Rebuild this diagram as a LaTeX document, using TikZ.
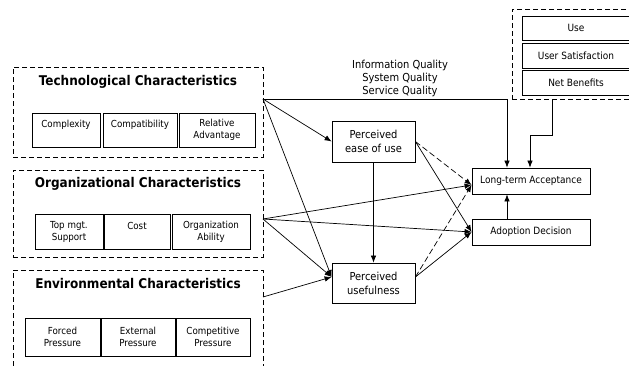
\documentclass[tikz,border=0pt]{standalone}
\usepackage{fontspec}
\setmainfont{DejaVu Sans Condensed}
\usetikzlibrary{arrows.meta}

\begin{document}
\begin{tikzpicture}[x=1pt, y=-1pt, >={Latex[length=7pt,width=5.5pt]},
    group/.style={draw, dash pattern=on 5pt off 3pt, line width=0.7pt, inner sep=0pt},
    title/.style={font=\bfseries\fontsize{13.4}{15}\selectfont},
    item/.style={draw, line width=0.7pt, align=center, inner sep=0pt, font=\fontsize{9.7}{12}\selectfont},
    block/.style={draw, line width=0.8pt, align=center, inner sep=0pt},
    arr/.style={->, line width=0.7pt},
    dasharr/.style={->, line width=0.7pt, dash pattern=on 6pt off 3pt}]
        \useasboundingbox (0,0) rectangle (629,365);
        % technological group
        \node[group, minimum width=250, minimum height=90] (tech) at (138,112) {};
        \node[title] (techtitle) at (138,82) {Technological Characteristics};
        \node[item, minimum width=68, minimum height=34] (complexity) at (66,130) {Complexity\\ \mbox{}};
        \node[item, minimum width=74, minimum height=34] (compat) at (140,130) {Compatibility\\ \mbox{}};
        \node[item, minimum width=76, minimum height=34] (reladv) at (217,130) {Relative\\Advantage};
        % organizational group
        \node[group, minimum width=250, minimum height=87] (org) at (138,213.5) {};
        \node[title] (orgtitle) at (138,184) {Organizational Characteristics};
        \node[item, minimum width=68, minimum height=35] (topmgt) at (69,231.5) {Top mgt.\\Support};
        \node[item, minimum width=66, minimum height=35] (cost) at (137,231.5) {Cost\\ \mbox{}};
        \node[item, minimum width=78, minimum height=35] (orgability) at (211,231.5) {Organization\\Ability};
        % environmental group
        \node[group, minimum width=250, minimum height=105] (env) at (138,322.5) {};
        \node[title] (envtitle) at (138,283) {Environmental Characteristics};
        \node[item, minimum width=75, minimum height=38] (forced) at (62.5,337) {Forced\\Pressure};
        \node[item, minimum width=74, minimum height=38] (external) at (138,337) {External\\Pressure};
        \node[item, minimum width=74, minimum height=38] (competitive) at (213,337) {Competitive\\Pressure};
        % success group
        \node[group, minimum width=160, minimum height=90] (success) at (592,54) {};
        \node[block, minimum width=108, minimum height=24, font=\fontsize{10}{12}\selectfont] (use) at (576,28) {Use};
        \node[block, minimum width=108, minimum height=25, font=\fontsize{10}{12}\selectfont] (usersat) at (576,55.5) {User Satisfaction};
        \node[block, minimum width=108, minimum height=25, font=\fontsize{10}{12}\selectfont] (netben) at (576,82.5) {Net Benefits};
        % model
        \node[block, minimum width=83, minimum height=41, font=\fontsize{11}{14}\selectfont] (peu) at (373.5,141.5) {Perceived\\ease of use};
        \node[block, minimum width=83, minimum height=40, font=\fontsize{11}{14}\selectfont] (pu) at (373.5,283) {Perceived\\usefulness};
        \node[block, minimum width=118, minimum height=26, font=\fontsize{10}{12}\selectfont] (lta) at (531,181) {Long-term Acceptance};
        \node[block, minimum width=118, minimum height=26, font=\fontsize{10}{12}\selectfont] (ad) at (531,232) {Adoption Decision};
        \node[align=center, font=\fontsize{11}{13}\selectfont] (quality) at (400,78) {Information Quality\\System Quality\\Service Quality};
        \coordinate (techpt) at (263,99);
        \coordinate (orgpt) at (263,219);
        \coordinate (envpt) at (263,297);
        \coordinate (successpt) at (552,99);
        % connectors
        \draw[arr] (techpt) -| ([xshift=-24]lta.north);
        \draw[arr] (successpt) -- ++(0,36) -| ([xshift=-1]lta.north);
        \draw[arr] ([xshift=-24]ad.north) -- ([xshift=-24]lta.south);
        \draw[arr] (techpt) -- (peu.west);
        \draw[arr] (techpt) -- ([yshift=6]pu.west);
        \draw[arr] (orgpt) -- ([yshift=6]pu.west);
        \draw[arr] (envpt) -- ([yshift=6]pu.west);
        \draw[arr] (orgpt) -- ([yshift=-4]lta.west);
        \draw[arr] (orgpt) -- (ad.west);
        \draw[arr] (peu.east) -- (ad.west);
        \draw[dasharr] (peu.east) -- ([yshift=-4]lta.west);
        \draw[arr] ([yshift=6]pu.east) -- (ad.west);
        \draw[dasharr] ([yshift=6]pu.east) -- ([yshift=-4]lta.west);
        \draw[arr] (peu) -- (pu);
\end{tikzpicture}
\end{document}
